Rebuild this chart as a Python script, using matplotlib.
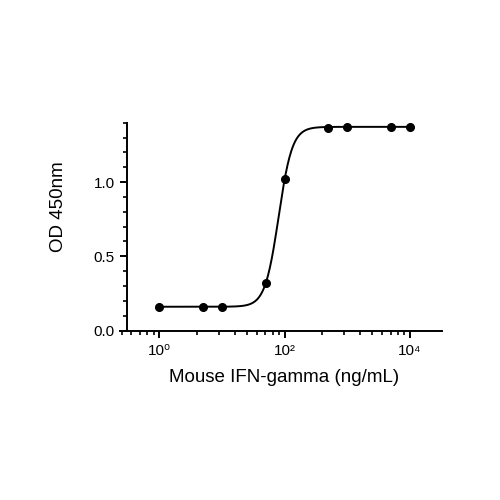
import matplotlib
matplotlib.use("Agg")
import matplotlib.pyplot as plt
import numpy as np
from matplotlib.ticker import FixedLocator, FixedFormatter, MultipleLocator

plt.rcParams['font.family'] = ['Liberation Sans', 'DejaVu Sans']

# measured points
conc = [1, 5, 10, 50, 100, 500, 1000, 5000, 10000]
od = [0.16, 0.16, 0.16, 0.32, 1.02, 1.365, 1.372, 1.372, 1.372]

# 4PL fit parameters
bottom, top, ec50, hill = 0.16, 1.372, 80.0, 4.0

xmajor = [1, 100, 10000]
xmajor_labels = ['10⁰', '10²', '10⁴']
xminor = [k * k * 100.0 ** n for n in range(-1, 3) for k in range(2, 10)]

fig = plt.figure(figsize=(5, 5), dpi=100)
ax = fig.add_axes([0.24, 0.339, 0.6446, 0.4156])

xs = np.logspace(np.log10(conc[0]), np.log10(conc[-1]), 400)
fit = bottom + (top - bottom) / (1 + (ec50 / xs) ** hill)
ax.plot(xs, fit, color='black', lw=1.4)
ax.plot(conc, od, 'o', color='black', ms=5.5)

ax.set_xscale('log')
ax.set_xlim(0.236, 32700)
ax.set_ylim(0, 1.4)

ax.xaxis.set_major_locator(FixedLocator(xmajor))
ax.xaxis.set_major_formatter(FixedFormatter(xmajor_labels))
ax.xaxis.set_minor_locator(FixedLocator(xminor))
ax.xaxis.set_minor_formatter(FixedFormatter([]))
ax.yaxis.set_major_locator(FixedLocator([0, 0.5, 1.0]))
ax.yaxis.set_minor_locator(MultipleLocator(0.1))
ax.set_yticklabels(['0.0', '0.5', '1.0'])

for s in ['top', 'right']:
    ax.spines[s].set_visible(False)
ax.spines['left'].set_position(('data', 0.31))
for s in ['left', 'bottom']:
    ax.spines[s].set_linewidth(1.4)

ax.tick_params(which='major', length=5, width=1.4, labelsize=11, pad=4)
ax.tick_params(which='minor', length=2.8, width=1.2)
ax.tick_params(axis='x', which='major', pad=5)

ax.set_xlabel('Mouse IFN-gamma (ng/mL)', fontsize=13.5)
ax.set_ylabel('OD 450nm', fontsize=13.5)
ax.xaxis.set_label_coords(0.51, -0.185)
ax.yaxis.set_label_coords(-0.165, 0.597)

fig.savefig('out.png', dpi=100)
